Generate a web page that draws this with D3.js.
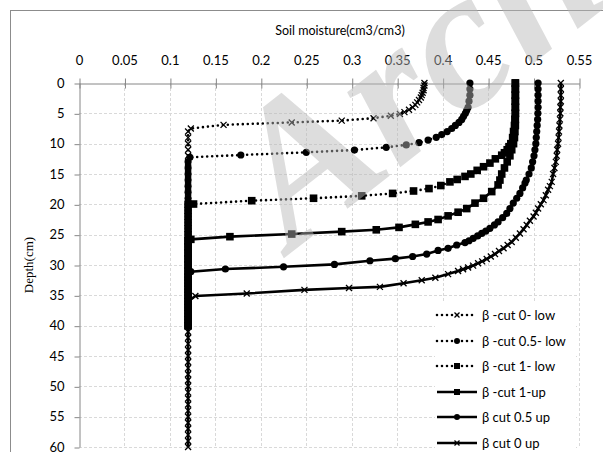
<!DOCTYPE html>
<html><head><meta charset="utf-8">
<script src="https://cdn.jsdelivr.net/npm/d3@7"></script>
<style>
html,body{margin:0;padding:0;background:#fff;}
svg{display:block;}
</style></head>
<body>
<svg id="chart" width="603" height="452"></svg>
<script>
// ---- data ----
const xTicks = [0,0.05,0.1,0.15,0.2,0.25,0.3,0.35,0.4,0.45,0.5,0.55];
const yTicks = [0,5,10,15,20,25,30,35,40,45,50,55,60];
const seriesNames = ["β -cut 0- low","β -cut 0.5- low","β -cut 1- low","β -cut 1-up","β cut 0.5 up","β cut 0 up"];
const residualMoisture = 0.12;
const tailDepth = [8,9,10,11,12,13,14,15,16,17,18,19,20,21,22,23,24,25,26,27,28,29,30,31,32,33,34,35,36,37,38,39,40,41,42,43,44,45,46,47,48,49,50,51,52,53,54,55,56,57,58,59,60];
const tailEnd = [40,40,40,40,40,60];

const depth1 = [0,0.4,0.8,1.2,1.6,2.0,2.4,2.8,3.2,3.6,4.0,4.4,4.8,5.1,5.4,5.8,6.2,6.5,6.9,7.5];
const moist1 = [0.380,0.380,0.379,0.379,0.378,0.377,0.376,0.374,0.372,0.370,0.367,0.363,0.358,0.353,0.343,0.324,0.289,0.234,0.159,0.123];

const depth2 = [0,1,2,3,4,4.5,5,5.5,6,6.5,7,7.5,8,8.5,8.95,9.4,9.84,10.2,10.6,11.05,11.43,11.87,12.25];
const moist2 = [0.430,0.430,0.430,0.429,0.428,0.4265,0.425,0.423,0.421,0.418,0.414,0.410,0.405,0.399,0.393,0.384,0.374,0.360,0.338,0.303,0.250,0.178,0.122];

const depth3 = [0,1,2,3,4,5,6,7,8,9,10,10.5,11,11.5,11.9,12.5,13.2,13.8,14.4,15,15.4,15.9,16.3,16.9,17.4,17.8,18.2,18.6,19.0,19.4,19.95];
const moist3 = [0.480,0.480,0.480,0.480,0.480,0.480,0.4795,0.479,0.478,0.477,0.475,0.473,0.471,0.468,0.465,0.458,0.452,0.445,0.438,0.431,0.4246,0.416,0.408,0.398,0.385,0.368,0.345,0.311,0.258,0.190,0.126];

const depth4 = [0,1,2,3,4,5,6,7,8,9,10,11,12,13,14,15,16,16.8,17.9,19.0,19.8,20.7,21.3,21.9,22.5,22.9,23.3,23.8,24.2,24.5,24.9,25.33,25.77];
const moist4 = [0.480,0.480,0.480,0.480,0.480,0.480,0.480,0.480,0.4795,0.479,0.478,0.476,0.474,0.471,0.468,0.465,0.463,0.461,0.454,0.445,0.4356,0.4265,0.417,0.406,0.395,0.384,0.370,0.352,0.327,0.289,0.234,0.166,0.123];

const depth5 = [0,1,2,3,4,5,6,7,8,9,10,11,12,13,14,15,16,16.5,17.3,18.2,19,19.8,20.7,21.5,22.2,22.9,23.4,23.95,24.4,24.8,25.2,25.6,26.0,26.3,26.7,27.25,27.6,28.2,28.6,28.95,29.3,29.9,30.3,30.66,31.1];
const moist5 = [0.505,0.505,0.505,0.505,0.505,0.5048,0.5045,0.504,0.5035,0.503,0.5025,0.5015,0.5005,0.499,0.4975,0.495,0.492,0.4906,0.488,0.485,0.4815,0.4777,0.474,0.4705,0.466,0.461,0.457,0.452,0.4475,0.443,0.4385,0.4337,0.429,0.4246,0.4155,0.406,0.395,0.3825,0.367,0.348,0.320,0.281,0.225,0.161,0.123];

const depth6 = [0,1,2,3,4,5,6,7,8,9,10,11,12,13,14,15,16.3,17,17.6,18.5,19.3,20,20.7,21.4,22.0,22.7,23.4,24.1,24.8,25.5,26.2,26.7,27.25,27.7,28.2,28.6,29.0,29.4,29.7,30.1,30.4,30.7,31.0,31.5,32.1,32.5,33.0,33.6,33.8,34.1,34.7,35.1];
const moist6 = [0.530,0.530,0.530,0.530,0.5295,0.5295,0.529,0.5285,0.528,0.5275,0.527,0.526,0.5255,0.5245,0.523,0.5215,0.520,0.518,0.516,0.5135,0.511,0.508,0.505,0.5025,0.500,0.496,0.4925,0.489,0.485,0.4805,0.476,0.4715,0.467,0.462,0.4576,0.453,0.4485,0.4435,0.439,0.4335,0.428,0.4225,0.417,0.406,0.392,0.377,0.357,0.331,0.297,0.248,0.1845,0.128];

const depths = [depth1,depth2,depth3,depth4,depth5,depth6];
const moists = [moist1,moist2,moist3,moist4,moist5,moist6];
const dashed = [true,true,true,false,false,false];
const markers = ["x","circle","square","square","circle","x"];

// ---- layout ----
const svg = d3.select("#chart");
const x = d3.scaleLinear().domain([0,0.55]).range([79,579]);
const y = d3.scaleLinear().domain([0,60]).range([83,447]);
const FONT = "Lato, 'Open Sans', sans-serif";

svg.append("rect").attr("x",10.5).attr("y",10.5).attr("width",620).attr("height",470)
  .attr("fill","#fff").attr("stroke","#8c8c8c").attr("stroke-width",1);

// grid
const grid = svg.append("g");
grid.selectAll("line.v").data(xTicks.filter(d=>d>0)).join("line")
  .attr("x1",d=>Math.round(x(d))+0.5).attr("x2",d=>Math.round(x(d))+0.5)
  .attr("y1",y(0)).attr("y2",y(60))
  .attr("stroke","#d9d9d9").attr("stroke-dasharray","3,2");
grid.selectAll("line.h").data(yTicks.filter(d=>d>0)).join("line")
  .attr("y1",d=>Math.round(y(d))+0.5).attr("y2",d=>Math.round(y(d))+0.5)
  .attr("x1",x(0)).attr("x2",x(0.55))
  .attr("stroke","#d9d9d9").attr("stroke-dasharray","3,2");

// axes
const xAxis = svg.append("g").attr("transform",`translate(0,${Math.round(y(0))+0.5})`)
  .call(d3.axisTop(x).tickValues(xTicks).tickFormat(d3.format("")).tickSizeInner(5).tickSizeOuter(0).tickPadding(14));
xAxis.select(".domain").attr("stroke","#868686");
xAxis.selectAll(".tick line").attr("stroke","#868686").attr("y2",5).attr("y1",-5)
  .attr("transform","translate(0.5,0)");
xAxis.selectAll(".tick text").attr("font-family",FONT).attr("font-size",13).attr("fill","#000");

const yAxis = svg.append("g").attr("transform",`translate(${Math.round(x(0))+0.5},0)`)
  .call(d3.axisLeft(y).tickValues(yTicks).tickFormat(d3.format("")).tickSizeInner(5).tickSizeOuter(0).tickPadding(10));
yAxis.select(".domain").attr("stroke","#868686");
yAxis.selectAll(".tick line").attr("stroke","#868686").attr("transform","translate(0,0.5)");
yAxis.selectAll(".tick text").attr("font-family",FONT).attr("font-size",13).attr("fill","#000");

svg.append("text").attr("x",340).attr("y",35).attr("text-anchor","middle")
  .attr("font-family",FONT).attr("font-size",12.5).text("Soil moisture(cm3/cm3)");
svg.append("text").attr("transform","translate(33,265) rotate(-90)").attr("text-anchor","middle")
  .attr("font-family","'Liberation Serif', serif").attr("font-size",13).text("Depth(cm)");

// series
function drawMarker(g, type, cx, cy, s){
  if(type==="x"){
    g.append("path").attr("d",`M${cx-s},${cy-s}L${cx+s},${cy+s}M${cx-s},${cy+s}L${cx+s},${cy-s}`)
      .attr("stroke","#000").attr("stroke-width",1.3).attr("fill","none");
  } else if(type==="circle"){
    g.append("circle").attr("cx",cx).attr("cy",cy).attr("r",s).attr("fill","#000");
  } else {
    g.append("rect").attr("x",cx-s).attr("y",cy-s).attr("width",2*s).attr("height",2*s).attr("fill","#000");
  }
}
const msize = {x:3, circle:3.6, square:3.8};
const line = d3.line().x(d=>x(d.m)).y(d=>y(d.d));
const plot = svg.append("g");
seriesNames.forEach((name,i)=>{
  const pts = depths[i].map((d,k)=>({d:d, m:moists[i][k]}));
  const last = depths[i][depths[i].length-1];
  tailDepth.filter(t=>t>last && t<=tailEnd[i]).forEach(t=>pts.push({d:t, m:residualMoisture}));
  const g = plot.append("g");
  g.append("path").datum(pts).attr("d",line).attr("fill","none").attr("stroke","#000")
    .attr("stroke-width",2.6).attr("stroke-linecap",dashed[i]?"round":"butt")
    .attr("stroke-dasharray",dashed[i]?"0,5":null);
  pts.forEach(p=>drawMarker(g, markers[i], x(p.m), y(p.d), msize[markers[i]]));
});

// legend
const lg = svg.append("g");
lg.append("rect").attr("x",435).attr("y",302).attr("width",141).attr("height",160).attr("fill","#fff");
const rowY = [315,341,366,392,417,443];
seriesNames.forEach((name,i)=>{
  const yy = rowY[i];
  lg.append("line").attr("x1",437).attr("x2",477).attr("y1",yy).attr("y2",yy)
    .attr("stroke","#000").attr("stroke-width",2.6)
    .attr("stroke-linecap",dashed[i]?"round":"butt")
    .attr("stroke-dasharray",dashed[i]?"0,5":null);
  drawMarker(lg, markers[i], 457, yy, markers[i]==="x"?2.5:3);
  lg.append("text").attr("x",482).attr("y",yy+4.5).attr("font-family",FONT).attr("font-size",13)
    .text(name);
});

// watermark overlay
svg.append("text").attr("transform","translate(292,252) rotate(-38)")
  .attr("font-family","'Liberation Serif', serif").attr("font-style","italic").attr("font-weight","bold")
  .attr("font-size",200).attr("fill","rgb(182,182,182)").attr("fill-opacity",0.47)
  .text("Archive");
</script>
</body></html>
